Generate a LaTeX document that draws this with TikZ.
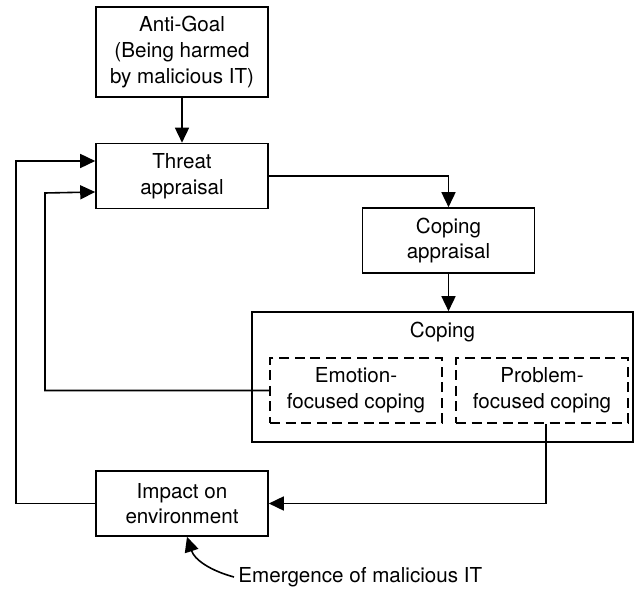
\documentclass[tikz,border=0pt]{standalone}
\usepackage{fontspec}
\setmainfont{TeX Gyre Heros}
\usetikzlibrary{arrows.meta}

\begin{document}
\begin{tikzpicture}[x=0.5pt, y=-0.5pt,
  every node/.style={font=\fontsize{10.3}{12.8}\selectfont, align=center, inner sep=0pt},
  box/.style={draw, line width=0.8pt, minimum width=86pt, minimum height=32.5pt},
  dbox/.style={draw, line width=1.2pt, dash pattern=on 5pt off 2.8pt, minimum width=86pt, minimum height=32.5pt},
  arr/.style={line width=0.8pt, -{Triangle[length=7.5pt, width=7pt]}},
  ln/.style={line width=0.8pt}]
\useasboundingbox (0,0) rectangle (635,592);

\draw (182,52) node[box, minimum height=45pt](Goal){Anti-Goal\\(Being harmed\\by malicious IT)};
\draw (182,176) node[box](Threat){Threat\\appraisal};
\draw (448.5,240.5) node[box](CopApp){Coping\\appraisal};
\draw (442.5,377) node[box, minimum width=190.5pt, minimum height=65pt](Coping){};
\draw (442.5,332) node(CopLbl){Coping};
\draw (356,390.5) node[dbox](Emotion){Emotion-\\focused coping};
\draw (542,390.5) node[dbox](Problem){Problem-\\focused coping};
\draw (182,503.5) node[box](Impact){Impact on\\environment};
\draw (238,577) node[anchor=west](Emerge){Emergence of malicious IT};

\draw[arr] (Goal.south) to (Threat.north);
\draw[arr] (Threat.east) -| (CopApp.north);
\draw[arr] (CopApp.south) to (Coping.north -| CopApp.south);
\draw[arr] (Emotion.west) -| (45,193) to ([yshift=-8pt]Threat.west);
\draw[arr] ([xshift=2pt]Problem.south) |- (Impact.east);
\draw[arr] (Impact.west) -| (16,161) to ([yshift=7.5pt]Threat.west);
\draw[arr] ([xshift=-2pt]Emerge.west) to[out=165, in=-72] ([xshift=2.5pt]Impact.south);
\end{tikzpicture}
\end{document}
